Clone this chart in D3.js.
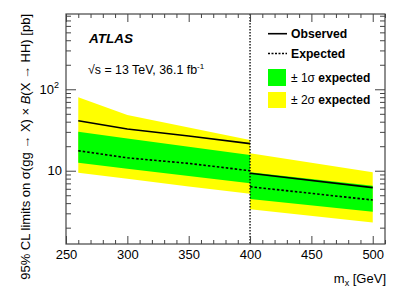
<!DOCTYPE html>
<html><head><meta charset="utf-8">
<script src="https://cdn.jsdelivr.net/npm/d3@7"></script>
<style>
body{margin:0;background:#fff;}
svg{display:block;font-family:"Liberation Sans",Arial,Helvetica,sans-serif;}
</style></head>
<body>
<svg id="c" width="407" height="292"></svg>
<script>
// ---- data ----
const massL = [260, 300, 350, 400];
const obsL  = [41.0, 32.5, 26.7, 21.5];
const expL  = [17.6, 14.4, 12.3, 10.0];
const p1L   = [30.2, 24.9, 19.7, 15.6];
const m1L   = [12.5, 10.6, 8.6, 7.0];
const p2L   = [79.8, 48.3, 34.0, 23.8];
const m2L   = [9.45, 7.96, 6.4, 5.2];

const massR = [400, 500];
const obsR  = [9.3, 6.2];
const expR  = [6.36, 4.37];
const p1R   = [9.6, 6.55];
const m1R   = [4.49, 3.14];
const p2R   = [16.4, 9.55];
const m2R   = [3.36, 2.32];

const xTicks = [250, 300, 350, 400, 450, 500];
const yTicks = [10, 100];
const boundaryMass = 400;

// ---- layout ----
const L = 66, R = 385, T = 14, B = 244;
const svg = d3.select("#c");
const x = d3.scaleLinear().domain([250, 510]).range([L, R]);
const y = d3.scaleLog().domain([1.26, 840]).range([B, T]);

function band(mass, lo, hi, color) {
  const data = mass.map((m, i) => ({m, lo: lo[i], hi: hi[i]}));
  svg.append("path").datum(data)
    .attr("fill", color).attr("stroke", "none")
    .attr("d", d3.area().x(d => x(d.m)).y0(d => y(d.lo)).y1(d => y(d.hi)));
}
function line(mass, vals, dash) {
  const data = mass.map((m, i) => ({m, v: vals[i]}));
  svg.append("path").datum(data)
    .attr("fill", "none").attr("stroke", "#000").attr("stroke-width", 1.6)
    .attr("stroke-dasharray", dash || null)
    .attr("d", d3.line().x(d => x(d.m)).y(d => y(d.v)));
}

band(massL, m2L, p2L, "#ffff00");
band(massL, m1L, p1L, "#00ff00");
band(massR, m2R, p2R, "#ffff00");
band(massR, m1R, p1R, "#00ff00");
line(massL, obsL, null);
line(massL, expL, "2.5,2");
line(massR, obsR, null);
line(massR, expR, "2.5,2");

// vertical boundary line
svg.append("line")
  .attr("x1", x(boundaryMass)).attr("x2", x(boundaryMass))
  .attr("y1", T).attr("y2", B)
  .attr("stroke", "#000").attr("stroke-width", 1.3).attr("stroke-dasharray", "1.5,1.5");

// ---- axes ----
const axisColor = "#444";
const minorX = d3.range(250, 511, 10).filter(v => v % 50 !== 0);
const minorY = [];
[1, 10, 100].forEach(d => { for (let k = 2; k <= 9; k++) { const v = d * k; if (v >= 1.26 && v <= 840) minorY.push(v); } });

function styleAxis(g) {
  g.select(".domain").remove();
  g.selectAll("line").attr("stroke", axisColor);
  g.selectAll("text").attr("fill", "#000").attr("font-size", 13)
   .attr("font-family", '"Liberation Sans",Arial,sans-serif');
}

svg.append("g").attr("transform", `translate(0,${B})`)
  .call(d3.axisBottom(x).tickValues(xTicks).tickSizeInner(-8).tickSizeOuter(0).tickPadding(6).tickFormat(d3.format("d")))
  .call(styleAxis);
svg.append("g").attr("transform", `translate(0,${B})`)
  .call(d3.axisBottom(x).tickValues(minorX).tickSizeInner(-4).tickSizeOuter(0).tickFormat(""))
  .call(styleAxis);
svg.append("g").attr("transform", `translate(0,${T})`)
  .call(d3.axisTop(x).tickValues(xTicks).tickSizeInner(-8).tickSizeOuter(0).tickFormat(""))
  .call(styleAxis);
svg.append("g").attr("transform", `translate(0,${T})`)
  .call(d3.axisTop(x).tickValues(minorX).tickSizeInner(-4).tickSizeOuter(0).tickFormat(""))
  .call(styleAxis);

const yAx = svg.append("g").attr("transform", `translate(${L},0)`)
  .call(d3.axisLeft(y).tickValues(yTicks).tickSizeInner(-10).tickSizeOuter(0).tickPadding(4).tickFormat(() => "10"))
  .call(styleAxis);
yAx.selectAll(".tick text").each(function(d) {
  if (d === 100) {
    const t = d3.select(this);
    t.attr("dx", "-3");
    t.append("tspan").attr("dy", "-6").attr("font-size", 9).text("2");
  }
});
svg.append("g").attr("transform", `translate(${L},0)`)
  .call(d3.axisLeft(y).tickValues(minorY).tickSizeInner(-5).tickSizeOuter(0).tickFormat(""))
  .call(styleAxis);
svg.append("g").attr("transform", `translate(${R},0)`)
  .call(d3.axisRight(y).tickValues(yTicks).tickSizeInner(-10).tickSizeOuter(0).tickFormat(""))
  .call(styleAxis);
svg.append("g").attr("transform", `translate(${R},0)`)
  .call(d3.axisRight(y).tickValues(minorY).tickSizeInner(-5).tickSizeOuter(0).tickFormat(""))
  .call(styleAxis);

// frame
svg.append("rect").attr("x", L).attr("y", T).attr("width", R - L).attr("height", B - T)
  .attr("fill", "none").attr("stroke", axisColor).attr("stroke-width", 1.2);

// axis titles
const xt = svg.append("text").attr("x", R + 1).attr("y", 283).attr("text-anchor", "end").attr("font-size", 13);
xt.append("tspan").text("m");
xt.append("tspan").attr("font-size", 9).attr("dy", 3).text("x");
xt.append("tspan").attr("dy", -3).text(" [GeV]");

const yt = svg.append("text").attr("transform", `translate(29.5,${T}) rotate(-90)`)
  .attr("text-anchor", "end").attr("font-size", 13);
yt.append("tspan").text("95% CL limits on σ(gg → X) × ");
yt.append("tspan").attr("font-style", "italic").text("B");
yt.append("tspan").text("(X → HH) [pb]");

// ATLAS label
svg.append("text").attr("x", 89).attr("y", 43).attr("font-size", 13.5)
  .attr("font-weight", "bold").attr("font-style", "italic").text("ATLAS");
const lum = svg.append("text").attr("x", 88).attr("y", 74).attr("font-size", 12.4);
lum.append("tspan").text("√s = 13 TeV, 36.1 fb");
lum.append("tspan").attr("dy", -5).attr("font-size", 8).text("-1");

// legend
const legX0 = 268, legX1 = 287, legTX = 291;
svg.append("line").attr("x1", legX0).attr("x2", legX1).attr("y1", 33.7).attr("y2", 33.7)
  .attr("stroke", "#000").attr("stroke-width", 1.6);
svg.append("text").attr("x", legTX).attr("y", 37.8).attr("font-size", 12.2).attr("font-weight", "bold").text("Observed");
svg.append("line").attr("x1", legX0).attr("x2", legX1).attr("y1", 53.5).attr("y2", 53.5)
  .attr("stroke", "#000").attr("stroke-width", 1.4).attr("stroke-dasharray", "2,1.5");
svg.append("text").attr("x", legTX).attr("y", 57.8).attr("font-size", 12.2).attr("font-weight", "bold").text("Expected");
svg.append("rect").attr("x", 268).attr("y", 69).attr("width", 18).attr("height", 17).attr("fill", "#00ff00");
const l1 = svg.append("text").attr("x", legTX).attr("y", 81.8).attr("font-size", 12);
l1.append("tspan").text("± 1σ ");
l1.append("tspan").attr("font-weight", "bold").text("expected");
svg.append("rect").attr("x", 268).attr("y", 92).attr("width", 18).attr("height", 16).attr("fill", "#ffff00");
const l2 = svg.append("text").attr("x", legTX).attr("y", 104.3).attr("font-size", 12);
l2.append("tspan").text("± 2σ ");
l2.append("tspan").attr("font-weight", "bold").text("expected");
</script>
</body></html>
